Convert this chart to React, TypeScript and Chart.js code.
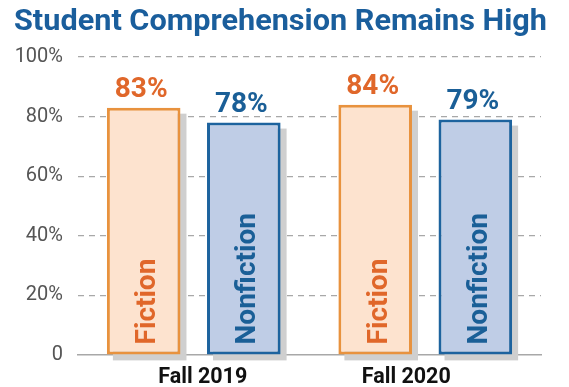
import React, { useEffect, useRef } from 'react';
import { Chart, registerables } from 'chart.js';
Chart.register(...registerables);

const TITLE = 'Student Comprehension Remains High';
const categories = ['Fall 2019', 'Fall 2020'];
const seriesNames = ['Fiction', 'Nonfiction'];
const fictionValues = [83, 84];
const nonfictionValues = [78, 79];
const yMin = 0;
const yMax = 100;
const yStep = 20;

const FONT = 'Roboto, "Noto Sans", sans-serif';
const seriesStyle = [
  { fill: '#FDE3CF', border: '#E8923E', text: '#E0672A' },
  { fill: '#BFCDE6', border: '#1D639E', text: '#1A5F97' },
];
const categoryLabelShift = [9, -19];
const TITLE_WIDTH = 533;

const shadowPlugin = {
  id: 'barShadow',
  beforeDatasetsDraw(chart: any) {
    const ctx = chart.ctx;
    ctx.save();
    ctx.fillStyle = '#CFCFCF';
    chart.data.datasets.forEach((_: any, di: number) => {
      const meta = chart.getDatasetMeta(di);
      meta.data.forEach((el: any) => {
        const { x, y, base, width } = el.getProps(['x', 'y', 'base', 'width'], true);
        ctx.fillRect(x - width / 2 + 6, y + 6, width, base - y);
      });
    });
    ctx.restore();
  },
};

const labelPlugin = {
  id: 'barLabels',
  afterDatasetsDraw(chart: any) {
    const ctx = chart.ctx;
    ctx.save();
    chart.data.datasets.forEach((ds: any, di: number) => {
      const meta = chart.getDatasetMeta(di);
      const st = seriesStyle[di];
      meta.data.forEach((el: any, i: number) => {
        const { x, y, base } = el.getProps(['x', 'y', 'base'], true);
        ctx.fillStyle = st.text;
        ctx.font = `bold 28px ${FONT}`;
        ctx.textAlign = 'center';
        ctx.textBaseline = 'alphabetic';
        ctx.fillText(ds.data[i] + '%', x - 2.5, y - 11);
        ctx.save();
        ctx.translate(x + 11.5, base - 10);
        ctx.rotate(-Math.PI / 2);
        ctx.font = `bold 28px ${FONT}`;
        ctx.textAlign = 'left';
        ctx.textBaseline = 'alphabetic';
        ctx.fillText(ds.label, 0, 0);
        ctx.restore();
      });
    });
    ctx.restore();
  },
};

const decorPlugin = {
  id: 'decor',
  afterDraw(chart: any) {
    const ctx = chart.ctx;
    ctx.save();
    ctx.fillStyle = '#1A5E9C';
    ctx.font = `bold 29px ${FONT}`;
    ctx.textAlign = 'left';
    ctx.textBaseline = 'alphabetic';
    const w = ctx.measureText(TITLE).width;
    ctx.save();
    ctx.translate(14, 30);
    ctx.scale(TITLE_WIDTH / w, 1);
    ctx.fillText(TITLE, 0, 0);
    ctx.restore();
    const xs = chart.scales.x;
    ctx.fillStyle = '#111111';
    ctx.font = `bold 21.5px ${FONT}`;
    ctx.textAlign = 'center';
    categories.forEach((c, i) => {
      ctx.fillText(c, xs.getPixelForValue(i) + categoryLabelShift[i], chart.chartArea.bottom + 28);
    });
    ctx.restore();
  },
};

export default function App() {
  const ref = useRef<HTMLCanvasElement>(null);
  useEffect(() => {
    if (!ref.current) return;
    const values = [fictionValues, nonfictionValues];
    const chart = new Chart(ref.current, {
      type: 'bar',
      data: {
        labels: categories,
        datasets: seriesNames.map((name, i) => ({
          label: name,
          data: values[i],
          backgroundColor: seriesStyle[i].fill,
          borderColor: seriesStyle[i].border,
          borderWidth: 3,
          borderSkipped: false,
          categoryPercentage: 0.865,
          barPercentage: 0.735,
        })),
      },
      options: {
        responsive: false,
        animation: false,
        devicePixelRatio: 1,
        layout: { padding: { top: 57, left: 14, right: 28, bottom: 32 } },
        plugins: {
          legend: { display: false },
          title: { display: false },
          tooltip: { enabled: false },
        },
        scales: {
          x: {
            offset: true,
            grid: { display: false, drawTicks: false },
            border: { display: true, color: '#A8A8A8', width: 1.5 },
            ticks: { display: false },
          },
          y: {
            min: yMin,
            max: yMax,
            afterFit: (s: any) => { s.width = 64; },
            ticks: {
              stepSize: yStep,
              padding: 15,
              color: '#555555',
              font: { family: FONT, size: 20 },
              callback: (v: any) => (v === 0 ? '0' : v + '%'),
            },
            grid: {
              drawTicks: false,
              color: (c: any) => (c.tick && c.tick.value === 0 ? 'rgba(0,0,0,0)' : '#A8A8A8'),
              lineWidth: 1.2,
            },
            border: { display: false, dash: [6, 5] },
          },
        },
      } as any,
      plugins: [shadowPlugin, labelPlugin, decorPlugin],
    });
    return () => chart.destroy();
  }, []);
  return (
    <div style={{ position: 'absolute', left: 0, top: 0, width: 569, height: 387, background: '#fff' }}>
      <canvas ref={ref} width={569} height={387} />
    </div>
  );
}
